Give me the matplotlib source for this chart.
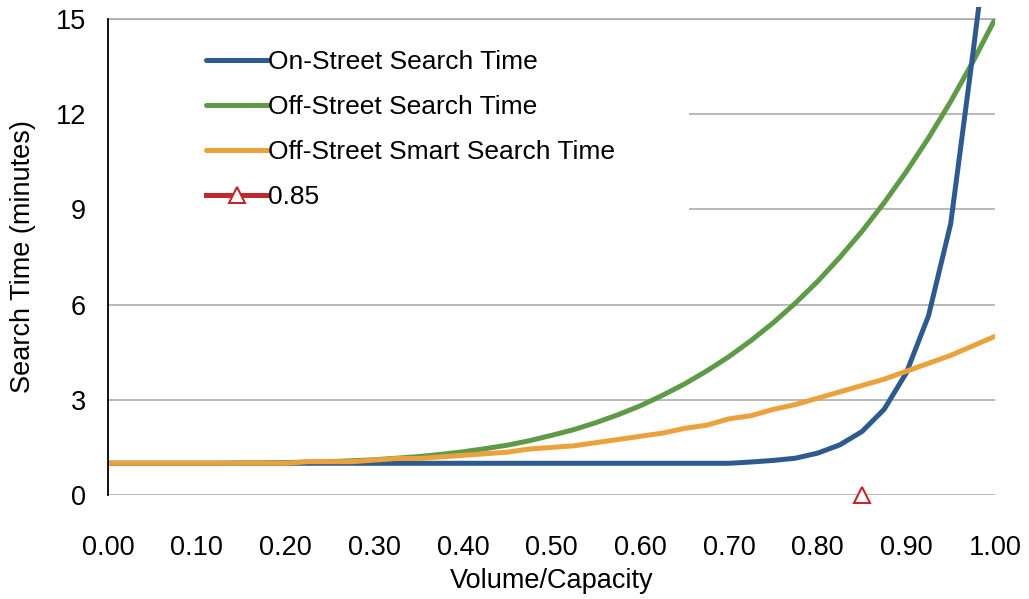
import matplotlib
matplotlib.use('Agg')
import matplotlib.pyplot as plt
from matplotlib.patches import Rectangle

plt.rcParams['font.family'] = ['Liberation Sans', 'DejaVu Sans']

# Volume/Capacity grid (41 steps)
vc = [0.000, 0.025, 0.050, 0.075, 0.100, 0.125, 0.150, 0.175, 0.200, 0.225,
      0.250, 0.275, 0.300, 0.325, 0.350, 0.375, 0.400, 0.425, 0.450, 0.475,
      0.500, 0.525, 0.550, 0.575, 0.600, 0.625, 0.650, 0.675, 0.700, 0.725,
      0.750, 0.775, 0.800, 0.825, 0.850, 0.875, 0.900, 0.925, 0.950, 0.975,
      1.000]

on_street = [1.00, 1.00, 1.00, 1.00, 1.00, 1.00, 1.00, 1.00, 1.00, 1.00,
             1.00, 1.00, 1.00, 1.00, 1.00, 1.00, 1.00, 1.00, 1.00, 1.00,
             1.00, 1.00, 1.00, 1.00, 1.00, 1.00, 1.00, 1.00, 1.00, 1.04,
             1.09, 1.16, 1.32, 1.58, 2.00, 2.70, 3.85, 5.65, 8.55, 13.90,
             19.50]

off_street = [1.00, 1.00, 1.00, 1.00, 1.00, 1.00, 1.01, 1.01, 1.02, 1.04,
              1.05, 1.08, 1.11, 1.16, 1.21, 1.28, 1.36, 1.46, 1.57, 1.71,
              1.88, 2.06, 2.28, 2.53, 2.81, 3.14, 3.50, 3.91, 4.36, 4.87,
              5.43, 6.05, 6.73, 7.49, 8.31, 9.21, 10.19, 11.25, 12.40, 13.65,
              15.00]

off_street_smart = [1.00, 1.00, 1.00, 1.00, 1.00, 1.00, 1.00, 1.00, 1.00, 1.05,
                    1.05, 1.05, 1.10, 1.15, 1.15, 1.20, 1.25, 1.30, 1.35, 1.45,
                    1.50, 1.55, 1.65, 1.75, 1.85, 1.95, 2.10, 2.20, 2.40, 2.50,
                    2.70, 2.85, 3.05, 3.25, 3.45, 3.65, 3.90, 4.15, 4.40, 4.70,
                    5.00]

target_vc = [0.85]
target_y = [0]

x_ticks = [0.0, 0.1, 0.2, 0.3, 0.4, 0.5, 0.6, 0.7, 0.8, 0.9, 1.0]
y_ticks = [0, 3, 6, 9, 12, 15]

BLUE = '#2E5A8E'
GREEN = '#5E9A48'
ORANGE = '#EBA23C'
RED = '#C0282D'
GRID = '#A6A6A6'

fig = plt.figure(figsize=(10.29, 5.99), dpi=100)
ax = fig.add_axes([0.105, 0.1736, 0.862, 0.7947])

lw = 3.6
l1, = ax.plot(vc, on_street, color=BLUE, lw=lw, label='On-Street Search Time',
              solid_capstyle='round', zorder=4)
l2, = ax.plot(vc, off_street, color=GREEN, lw=lw, label='Off-Street Search Time',
              solid_capstyle='round', zorder=3)
l3, = ax.plot(vc, off_street_smart, color=ORANGE, lw=lw,
              label='Off-Street Smart Search Time', solid_capstyle='round', zorder=5)
l4, = ax.plot(target_vc, target_y, color=RED, lw=lw, marker='^', markersize=11,
              markerfacecolor='white', markeredgecolor=RED, markeredgewidth=1.5,
              label='0.85', clip_on=False, zorder=6)

# let the steep on-street curve run a little past the top of the plot
clip = Rectangle((0, 0), 1, 1.025, transform=ax.transAxes)
l1.set_clip_path(clip)

ax.set_xlim(0, 1)
ax.set_ylim(0, 15)
ax.set_xticks(x_ticks)
ax.set_xticklabels([f'{t:.2f}' for t in x_ticks])
ax.set_yticks(y_ticks)
ax.tick_params(axis='both', length=0, labelsize=19.5)
ax.tick_params(axis='x', pad=29)
ax.tick_params(axis='y', pad=16)

ax.grid(axis='y', color=GRID, lw=1.1, zorder=1)
ax.axhline(15, color=GRID, lw=1.1, zorder=1, clip_on=False)
ax.set_axisbelow(True)
for side in ['top', 'right', 'bottom']:
    ax.spines[side].set_visible(False)
ax.spines['left'].set_color('black')
ax.spines['left'].set_linewidth(1.3)
ax.spines['left'].set_zorder(7)

# white panel behind the legend hides the gridlines
ax.add_patch(Rectangle((0, 8.3), 0.655, 6.3, facecolor='white', edgecolor='none', zorder=2))

ax.set_xlabel('Volume/Capacity', fontsize=19.5, labelpad=5)
ax.set_ylabel('Search Time (minutes)', fontsize=19.5, labelpad=14)

leg = ax.legend(handles=[l1, l2, l3, l4], loc='upper left',
                bbox_to_anchor=(0.11, 0.935), frameon=False, fontsize=19,
                handlelength=2.35, handletextpad=0.0, labelspacing=0.8,
                borderpad=0, borderaxespad=0)
leg.set_zorder(8)

fig.savefig('out.png', dpi=100)
